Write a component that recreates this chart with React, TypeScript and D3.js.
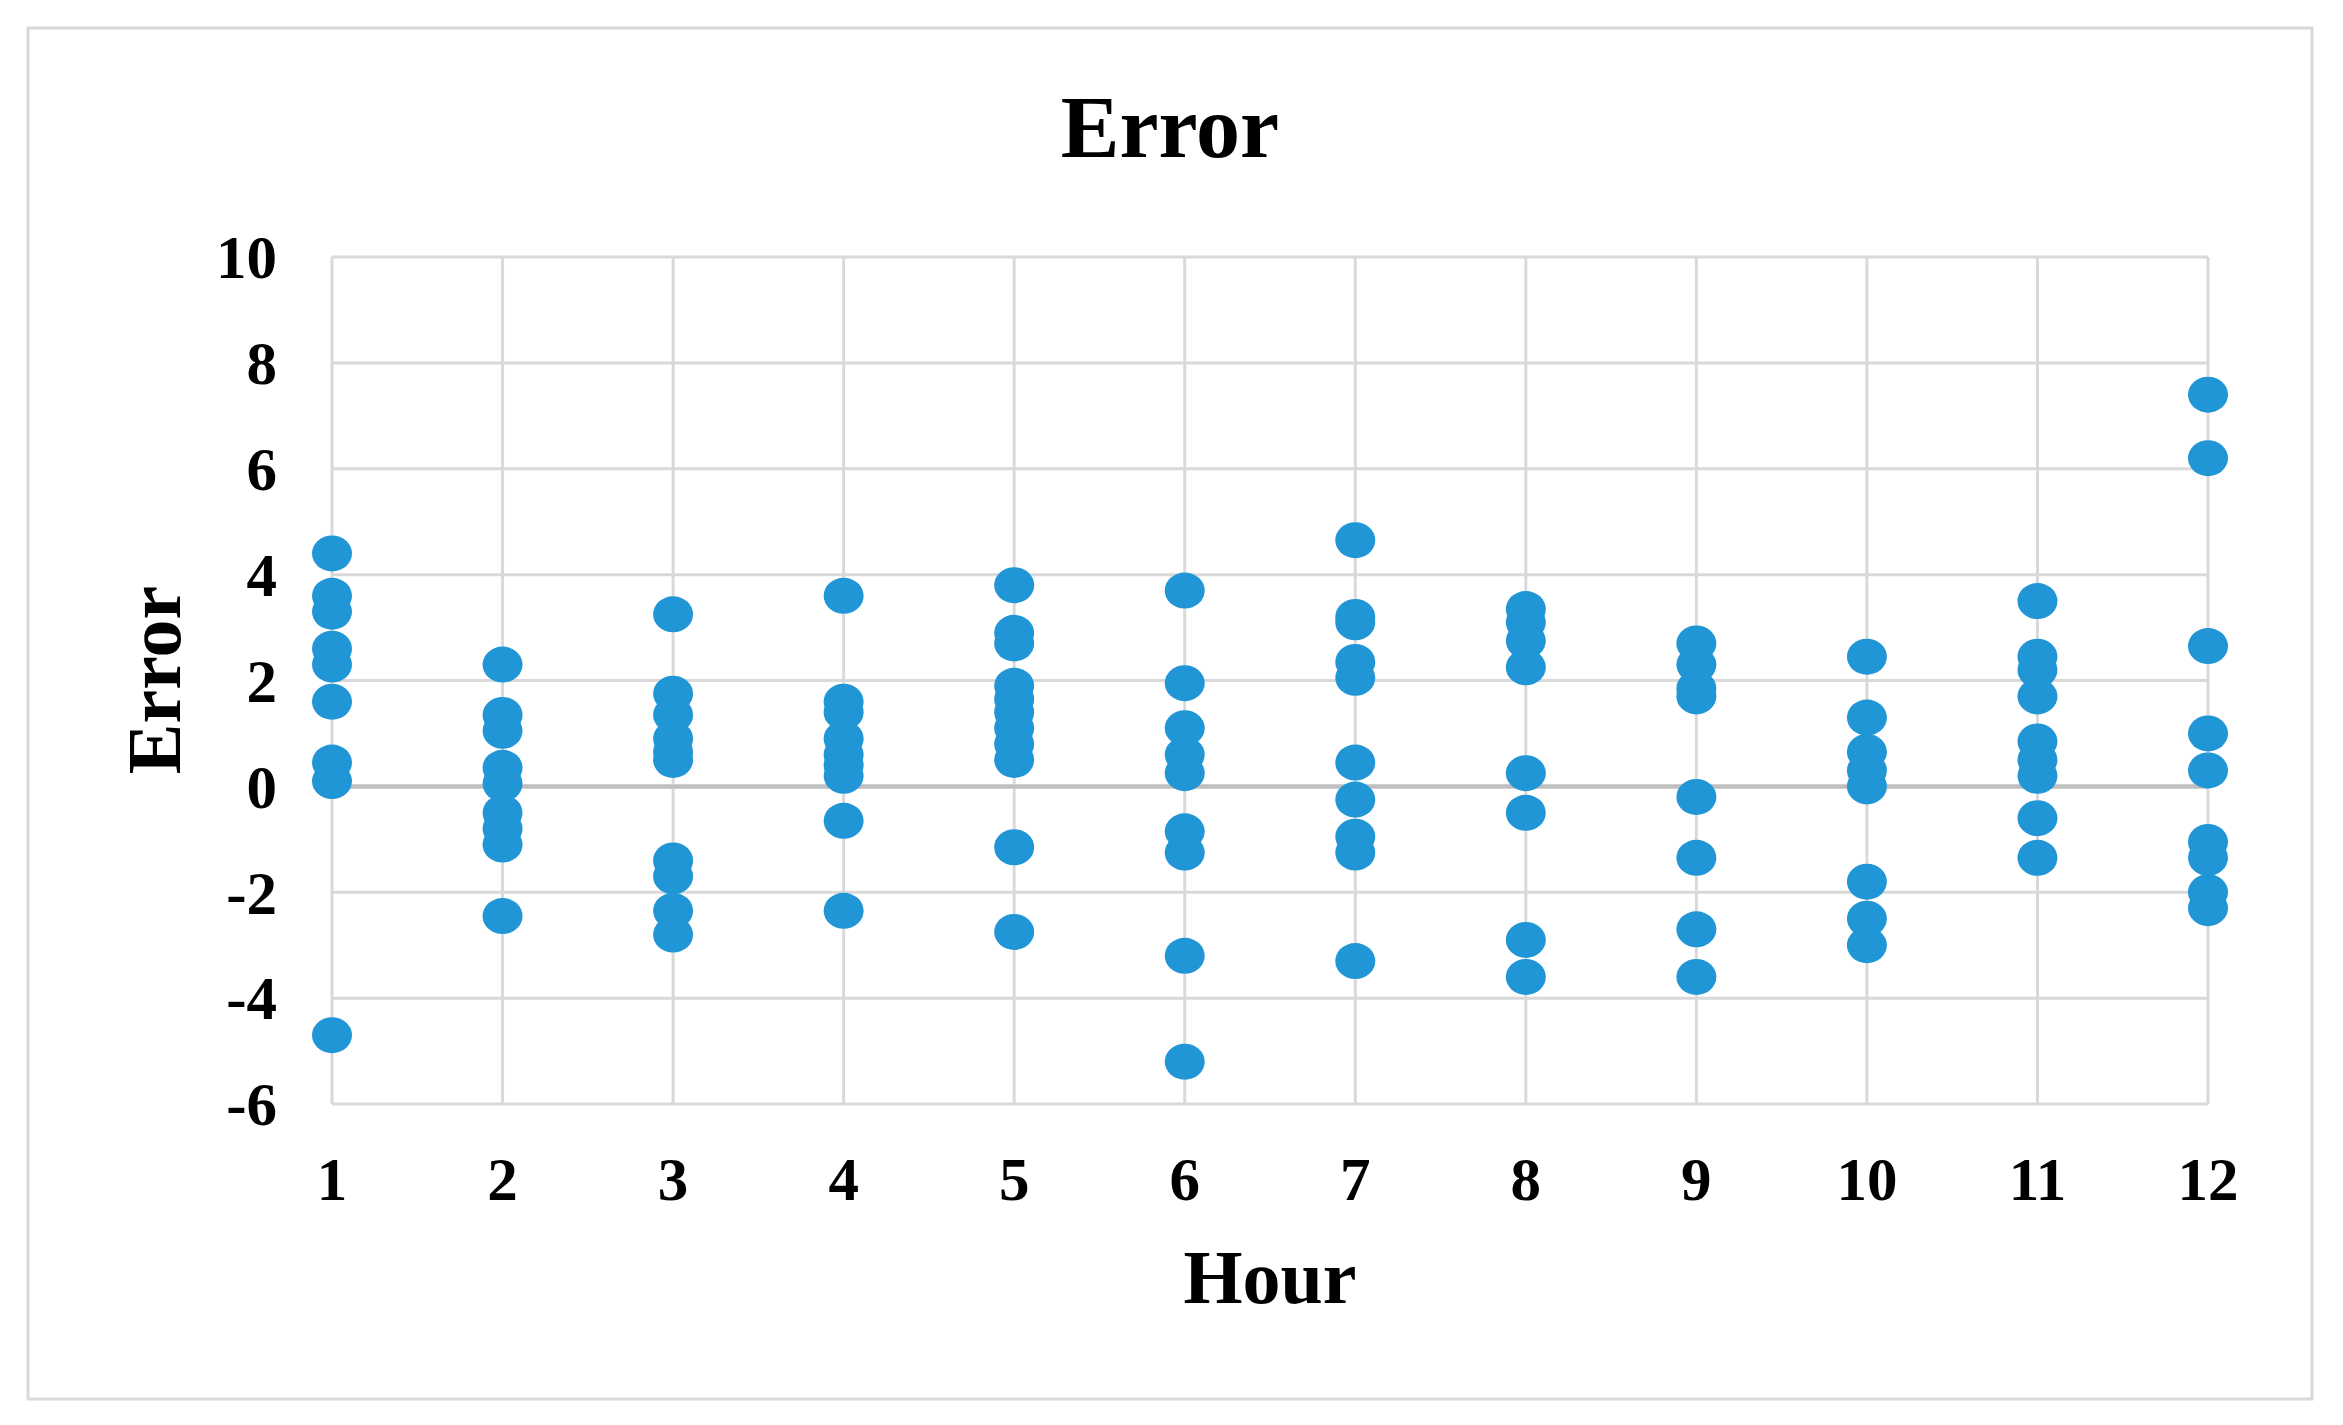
import React from "react";
import * as d3 from "d3";

const hours = [1, 2, 3, 4, 5, 6, 7, 8, 9, 10, 11, 12];
const yTicks = [-6, -4, -2, 0, 2, 4, 6, 8, 10];

const hour1 = [4.4, 3.6, 3.3, 2.6, 2.3, 1.6, 0.45, 0.1, -4.7];
const hour2 = [2.3, 1.35, 1.05, 0.35, 0.05, -0.5, -0.8, -1.1, -2.45];
const hour3 = [3.25, 1.75, 1.35, 0.9, 0.65, 0.5, -1.4, -1.7, -2.35, -2.8];
const hour4 = [3.6, 1.6, 1.4, 0.9, 0.6, 0.4, 0.2, -0.65, -2.35];
const hour5 = [3.8, 2.9, 2.7, 1.9, 1.65, 1.4, 1.1, 0.8, 0.5, -1.15, -2.75];
const hour6 = [3.7, 1.95, 1.1, 0.6, 0.25, -0.85, -1.25, -3.2, -5.2];
const hour7 = [4.65, 3.2, 3.1, 2.35, 2.05, 0.45, -0.25, -0.95, -1.25, -3.3];
const hour8 = [3.35, 3.1, 2.75, 2.25, 0.25, -0.5, -2.9, -3.6];
const hour9 = [2.7, 2.3, 1.85, 1.7, -0.2, -1.35, -2.7, -3.6];
const hour10 = [2.45, 1.3, 0.65, 0.3, 0.0, -1.8, -2.5, -3.0];
const hour11 = [3.5, 2.45, 2.2, 1.7, 0.85, 0.5, 0.2, -0.6, -1.35];
const hour12 = [7.4, 6.2, 2.65, 1.0, 0.3, -1.05, -1.35, -2.0, -2.3];

const errorsByHour = [hour1, hour2, hour3, hour4, hour5, hour6, hour7, hour8, hour9, hour10, hour11, hour12];

const W = 2343;
const H = 1425;
const FONT = "'Liberation Serif', 'Times New Roman', serif";

export default function App() {
  const x = d3.scaleLinear().domain([1, 12]).range([332, 2208]);
  const y = d3.scaleLinear().domain([-6, 10]).range([1104, 257]);

  const points = errorsByHour.flatMap((vals, i) => vals.map((v) => ({ h: hours[i], v })));

  return (
    <svg width={W} height={H} style={{ position: "absolute", left: 0, top: 0, background: "#fff" }}>
      <rect x={0} y={0} width={W} height={H} fill="#fff" />
      <rect x={28} y={28} width={2284} height={1371} fill="none" stroke="#d9d9d9" strokeWidth={3} />
      <text x={1170} y={157} textAnchor="middle" fontFamily={FONT} fontWeight="bold" fontSize={88} fill="#000">
        Error
      </text>
      {yTicks.map((t) => (
        <line
          key={"hy" + t}
          x1={x(1)}
          x2={x(12)}
          y1={y(t)}
          y2={y(t)}
          stroke={t === 0 ? "#bfbfbf" : "#d9d9d9"}
          strokeWidth={t === 0 ? 4 : 3}
        />
      ))}
      {hours.map((h) => (
        <line key={"vx" + h} x1={x(h)} x2={x(h)} y1={y(10)} y2={y(-6)} stroke="#d9d9d9" strokeWidth={3} />
      ))}
      <line x1={x(1)} x2={x(12)} y1={y(0)} y2={y(0)} stroke="#bfbfbf" strokeWidth={4} />
      {yTicks.map((t) => (
        <text
          key={"yt" + t}
          x={277}
          y={y(t)}
          dy="0.35em"
          textAnchor="end"
          fontFamily={FONT}
          fontWeight="bold"
          fontSize={61}
          fill="#000"
        >
          {t}
        </text>
      ))}
      {hours.map((h) => (
        <text
          key={"xt" + h}
          x={x(h)}
          y={1200}
          textAnchor="middle"
          fontFamily={FONT}
          fontWeight="bold"
          fontSize={61}
          fill="#000"
        >
          {h}
        </text>
      ))}
      {points.map((p, i) => (
        <ellipse key={"p" + i} cx={x(p.h)} cy={y(p.v)} rx={20} ry={18} fill="#2196d6" />
      ))}
      <text x={1270} y={1303} textAnchor="middle" fontFamily={FONT} fontWeight="bold" fontSize={76} fill="#000">
        Hour
      </text>
      <text
        transform={`translate(180, 680) rotate(-90)`}
        textAnchor="middle"
        fontFamily={FONT}
        fontWeight="bold"
        fontSize={76}
        fill="#000"
      >
        Error
      </text>
    </svg>
  );
}
